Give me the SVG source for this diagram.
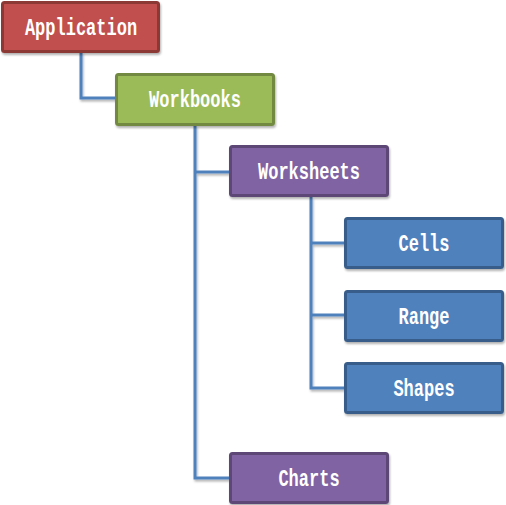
<svg xmlns="http://www.w3.org/2000/svg" width="506" height="505" viewBox="0 0 506 505">
<defs>
<filter id="sh" x="-10%" y="-10%" width="130%" height="140%">
<feDropShadow dx="1" dy="2" stdDeviation="1.2" flood-color="#000" flood-opacity="0.3"/>
</filter>
<filter id="shc" filterUnits="userSpaceOnUse" x="0" y="0" width="506" height="505">
<feDropShadow dx="1" dy="2" stdDeviation="1" flood-color="#000" flood-opacity="0.3"/>
</filter>
<style>
.box{stroke-width:3;filter:url(#sh)}
.red{fill:#C0504D;stroke:#8C3836}
.green{fill:#9BBB59;stroke:#71893F}
.purple{fill:#8064A2;stroke:#5C4776}
.blue{fill:#4F81BD;stroke:#385D8A}
.lbl{font-family:"Liberation Mono","DejaVu Sans Mono",monospace;font-weight:bold;font-size:17px;fill:#fff;text-anchor:middle;dominant-baseline:central}
.con{fill:none;stroke:#4F81BD;stroke-width:3}
</style>
</defs>
<g id="connectors" filter="url(#shc)">
<path class="con" d="M81,52 V98 H116"/>
<path class="con" d="M195,125 V478 H229"/>
<path class="con" d="M195,172 H229"/>
<path class="con" d="M311,197 V388 H344"/>
<path class="con" d="M311,243 H344"/>
<path class="con" d="M311,315 H344"/>
</g>
<g id="application"><rect class="box red" x="2.5" y="2.5" width="156" height="49" rx="2"/><text class="lbl" transform="translate(81,28.5) scale(1,1.4)">Application</text></g>
<g id="workbooks"><rect class="box green" x="116.5" y="74.5" width="157" height="50" rx="2"/><text class="lbl" transform="translate(195,100.5) scale(1,1.4)">Workbooks</text></g>
<g id="worksheets"><rect class="box purple" x="230.5" y="146.5" width="157" height="49" rx="2"/><text class="lbl" transform="translate(309,172.5) scale(1,1.4)">Worksheets</text></g>
<g id="cells"><rect class="box blue" x="345.5" y="218.5" width="157" height="49" rx="2"/><text class="lbl" transform="translate(424,244.5) scale(1,1.4)">Cells</text></g>
<g id="range"><rect class="box blue" x="345.5" y="291.5" width="157" height="49" rx="2"/><text class="lbl" transform="translate(424,317.5) scale(1,1.4)">Range</text></g>
<g id="shapes"><rect class="box blue" x="345.5" y="363.5" width="157" height="49" rx="2"/><text class="lbl" transform="translate(424,389.5) scale(1,1.4)">Shapes</text></g>
<g id="charts"><rect class="box purple" x="230.5" y="453.5" width="157" height="49" rx="2"/><text class="lbl" transform="translate(309,479.5) scale(1,1.4)">Charts</text></g>
</svg>
